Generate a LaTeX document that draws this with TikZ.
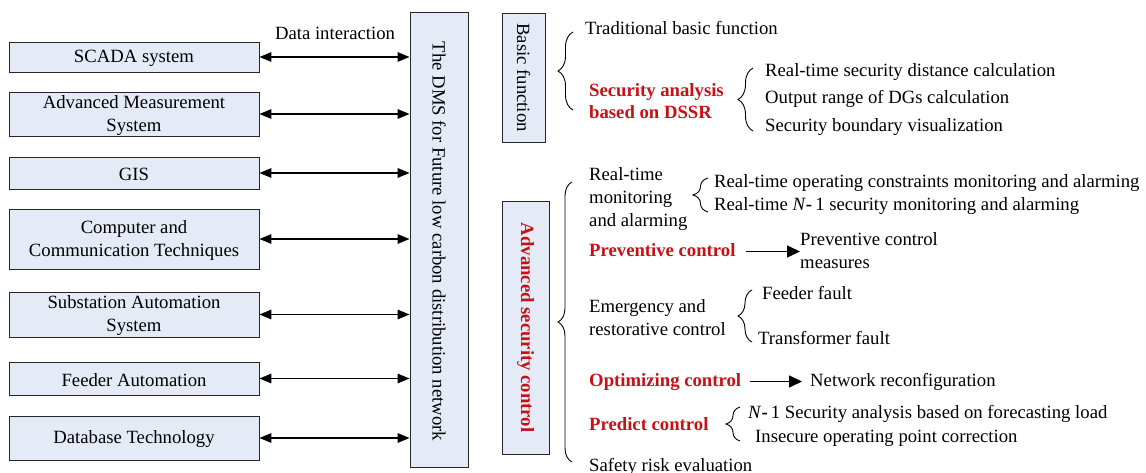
\documentclass[tikz,border=0pt]{standalone}
\usepackage{fontspec}
\setmainfont{Liberation Serif}
\usetikzlibrary{arrows.meta,decorations.pathreplacing}
\definecolor{boxfill}{RGB}{228,235,246}
\definecolor{dred}{RGB}{200,16,22}
\begin{document}
\begin{tikzpicture}[x=1pt,y=-1pt, font=\fontsize{18.7}{23}\selectfont,
  box/.style={draw=black!85, line width=0.9pt, fill=boxfill, inner sep=0pt, minimum width=250pt},
  boxlab/.style={label={[align=center, inner sep=0pt, yshift=-1.5pt]center:{#1}}},
  txt/.style={anchor=west, inner sep=0pt, align=left, yshift=-1.5pt},
  one/.style={txt, text height=13pt, text depth=4pt},
  hl/.style={text=dred, font=\fontsize{18.7}{22}\selectfont\bfseries},
  dbl/.style={{Triangle[length=12pt,width=9.5pt]}-{Triangle[length=12pt,width=9.5pt]}, line width=1.6pt},
  sarr/.style={-{Triangle[length=13pt,width=12pt]}, line width=1.5pt},
  brc/.style={decorate, decoration={brace, amplitude=#1}, line width=0.9pt}
]
\useasboundingbox (0,0) rectangle (1146,473);

% left boxes
\node[box, minimum height=30pt, boxlab={SCADA system}] (scada) at (134,57) {};
\node[box, minimum height=44pt, boxlab={Advanced Measurement\\System}] (ams) at (134,114) {};
\node[box, minimum height=32pt, boxlab={GIS}] (gis) at (134,173) {};
\node[box, minimum height=60pt, boxlab={Computer and\\Communication Techniques}] (cct) at (134,239) {};
\node[box, minimum height=45pt, boxlab={Substation Automation\\System}] (sas) at (134,314.5) {};
\node[box, minimum height=33pt, boxlab={Feeder Automation}] (fa) at (134,378.5) {};
\node[box, minimum height=44pt, boxlab={Database Technology}] (db) at (134,438) {};

% DMS box
\node[box, minimum width=58pt, minimum height=455pt] (dms) at (439,239.5) {};
\node[rotate=-90] (dmstext) at ([yshift=-2pt]dms.center) {The DMS for Future low carbon distribution network};
\node (di) at (335,33) {Data interaction};

\foreach \n in {scada,ams,gis,cct,sas,fa,db}
  \draw[dbl] (\n.east) -- (\n.east -| dms.west);

% basic function
\node[box, minimum width=43pt, minimum height=129pt] (bf) at (523.5,77.5) {};
\node[rotate=-90] (bftext) at (bf.center) {Basic function};
\draw[brc=15pt] (573,110) -- (573,32);
\node[one] (tbf) at (585,29) {Traditional basic function};
\node[txt,hl] (sa) at (589,100) {Security analysis\\based on DSSR};
\draw[brc=15pt] (753,131) -- (753,68);
\node[one] (rsd) at (765,71) {Real-time security distance calculation};
\node[one] (ord) at (765,98) {Output range of DGs calculation};
\node[one] (sbv) at (765,126) {Security boundary visualization};

% advanced security control
\node[box, minimum width=47pt, minimum height=253pt] (asc) at (525.5,327.5) {};
\node[rotate=-90, hl] (asctext) at (asc.center) {Advanced security control};
\draw[brc=14pt] (572,462) -- (572,182);

\node[txt] (rtm) at (589,198) {Real-time\\monitoring\\and alarming};
\draw[brc=15pt] (708,212) -- (708,178);
\node[one] (roc) at (714,182) {Real-time operating constraints monitoring and alarming};
\node[one] (rn1) at (714,205) {Real-time \textit{N}\textbf{-}\,1 security monitoring and alarming};

\node[one,hl] (pc) at (589,250) {Preventive control};
\node[txt] (pcm) at (800,249) {Preventive control\\measures};
\draw[sarr] ([xshift=10pt]pc.east) -- (pcm.west |- pc.east);

\node[txt] (erc) at (589,316) {Emergency and\\restorative control};
\draw[brc=14pt] (752,342) -- (752,290);
\node[one] (ff) at (762,293) {Feeder fault};
\node[one] (tf) at (758,338) {Transformer fault};

\node[one,hl] (oc) at (589,380) {Optimizing control};
\node[one] (nr) at (810,380) {Network reconfiguration};
\draw[sarr] ([xshift=9pt]oc.east) -- ([xshift=-8pt]nr.west);

\node[one,hl] (prc) at (589,424) {Predict control};
\draw[brc=14pt] (740,441) -- (740,407);
\node[one] (n1s) at (748,412) {\textit{N}\textbf{-}\,1 Security analysis based on forecasting load};
\node[one] (iop) at (755,436) {Insecure operating point correction};

\node[one] (sre) at (589,465) {Safety risk evaluation};
\end{tikzpicture}
\end{document}
